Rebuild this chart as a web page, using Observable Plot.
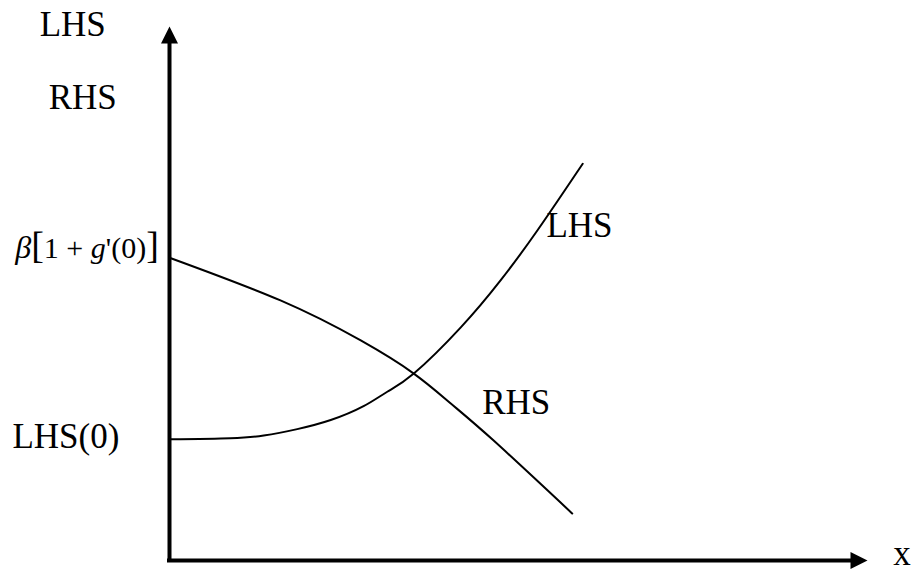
<!DOCTYPE html>
<html>
<head>
<meta charset="utf-8">
<script src="https://cdn.jsdelivr.net/npm/d3@7"></script>
<script src="https://cdn.jsdelivr.net/npm/@observablehq/plot@0.6"></script>
<style>
  html, body { margin: 0; padding: 0; background: #ffffff; }
  #chart svg text tspan { white-space: pre; }
</style>
</head>
<body>
<div id="chart"></div>
<script>
// LHS curve (schematic)
const lhsX = [0, 0.87, 1.35, 1.83, 2.31, 2.78, 3.12, 3.50, 4.17, 4.74, 5.27, 5.92];
const lhsY = [2.27, 2.29, 2.34, 2.46, 2.63, 2.89, 3.16, 3.50, 4.36, 5.24, 6.18, 7.43];
// RHS curve (schematic)
const rhsX = [0, 1.59, 2.74, 3.50, 4.03, 4.64, 5.77];
const rhsY = [5.67, 4.87, 4.12, 3.50, 2.94, 2.25, 0.88];

// Text labels
const betaLabel = "β[1 + g'(0)]";
const labelText = ["LHS", "RHS", betaLabel, "LHS(0)", "LHS", "RHS", "x"];
const labelX = [-1.86, -1.73, -2.21, -2.25, 5.40, 4.48, 10.37];
const labelY = [9.83, 8.45, 5.66, 2.10, 6.05, 2.75, -0.08];

// Axis extent (data units)
const axisMax = 10;
const axisLineEnd = 9.75;

const lhs = lhsX.map((x, i) => ({x, y: lhsY[i]}));
const rhs = rhsX.map((x, i) => ({x, y: rhsY[i]}));
const labels = labelText.map((t, i) => ({t, x: labelX[i], y: labelY[i]}));
const heads = [{x: 0, y: axisMax, r: 0}, {x: axisMax, y: 0, r: 90}];

const arrowHead = {
  draw(context) {
    context.moveTo(0, 0);
    context.lineTo(8.5, 17);
    context.lineTo(-8.5, 17);
    context.closePath();
  }
};

const serif = "Liberation Serif";

const chart = Plot.plot({
  width: 914,
  height: 573,
  margin: 0,
  style: {background: "white", fontFamily: serif},
  x: {domain: [0, 10], range: [169, 867], axis: null},
  y: {domain: [0, 10], range: [560, 26], axis: null},
  marks: [
    Plot.ruleX([0], {y1: 0, y2: axisLineEnd, stroke: "black", strokeWidth: 4, strokeLinecap: "square"}),
    Plot.ruleY([0], {x1: 0, x2: axisLineEnd, stroke: "black", strokeWidth: 4, strokeLinecap: "square"}),
    Plot.dot(heads, {x: "x", y: "y", rotate: "r", symbol: arrowHead, r: 5, fill: "black", stroke: "none"}),
    Plot.line(lhs, {x: "x", y: "y", curve: "natural", stroke: "black", strokeWidth: 2}),
    Plot.line(rhs, {x: "x", y: "y", curve: "natural", stroke: "black", strokeWidth: 2}),
    Plot.text(labels, {x: "x", y: "y", text: "t", textAnchor: "start", lineAnchor: "bottom",
      fontSize: 35, fontFamily: serif, fill: "black"})
  ]
});

d3.select(chart).selectAll("text").filter(function () { return this.textContent === betaLabel; })
  .each(function () {
    const t = d3.select(this);
    t.text(null);
    const parts = [["β", 32, "italic"], ["[", 38, "normal"], ["1 + ", 30, "normal"],
                   ["g", 30, "italic"], ["'(0)", 30, "normal"], ["]", 38, "normal"]];
    parts.forEach(([s, fs, st]) => t.append("tspan").attr("font-size", fs).attr("font-style", st).text(s));
  });

document.getElementById("chart").appendChild(chart);
</script>
</body>
</html>
